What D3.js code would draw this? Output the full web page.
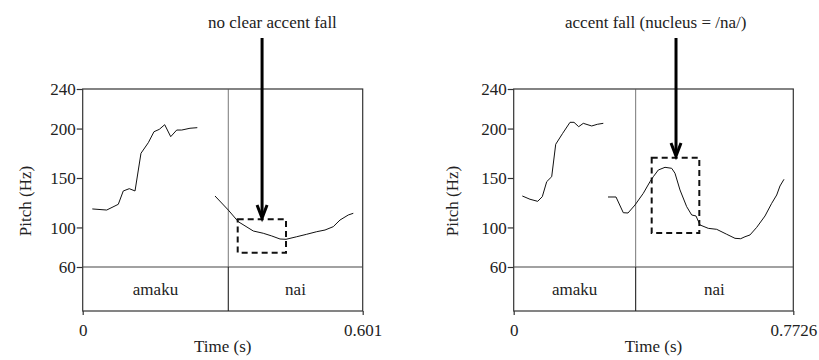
<!DOCTYPE html>
<html><head><meta charset="utf-8">
<script src="https://cdn.jsdelivr.net/npm/d3@7"></script>
<style>
html,body{margin:0;padding:0;background:#fff;}
svg text{font-family:"Liberation Serif","Times New Roman",serif;font-size:17px;fill:#222;}
</style></head>
<body><svg id="c" width="819" height="360"></svg>
<script>
// ---- data ----
const yTicks = [60, 100, 150, 200, 240];
const leftDuration = 0.601, rightDuration = 0.7726;
const leftXTickLabels = ["0", "0.601"];
const rightXTickLabels = ["0", "0.7726"];
const leftBoundary = 0.3125, rightBoundary = 0.337;
const tierLabels = ["amaku", "nai"];
const leftTitle = "no clear accent fall";
const rightTitle = "accent fall (nucleus = /na/)";

const leftPitchA = [[0.0206,118.7],[0.0515,117.6],[0.0764,123.4],[0.0871,136.9],[0.1000,139.2],[0.1123,136.9],[0.1251,175],[0.1408,185.7],[0.1530,196.8],[0.1644,199.2],[0.1760,203.9],[0.1889,191.8],[0.2018,198.5],[0.2125,198.5],[0.2303,200.3],[0.2460,200.9]];
const leftPitchB = [[0.2840,131.8],[0.3125,117.6],[0.3340,105.8],[0.3662,96.4],[0.3876,94.1],[0.4057,91.4],[0.4235,88.3],[0.4364,88.0],[0.4593,90.6],[0.4808,93.1],[0.5023,95.7],[0.5201,97.4],[0.5379,100.8],[0.5523,107.5],[0.5701,112.6],[0.5808,114.3]];
const rightPitchA = [[0.0238,131.8],[0.0450,128.5],[0.0663,126.4],[0.0790,131.1],[0.0912,146.3],[0.1050,151.3],[0.1161,184.1],[0.1354,195.2],[0.1556,206.3],[0.1666,206.3],[0.1796,201.9],[0.1923,205.3],[0.2155,202.6],[0.2310,204.3],[0.2476,205.3]];
const rightPitchB = [[0.2606,130.8],[0.2827,130.8],[0.3028,114.9],[0.3158,114.6],[0.3352,122.7],[0.3581,134.5],[0.3766,146.3],[0.3857,151.3],[0.3996,158.1],[0.4181,160.8],[0.4366,159.8],[0.4457,154.8],[0.4595,137.9],[0.4780,121],[0.4918,112.6],[0.5037,111.6],[0.5148,102.5],[0.5377,99.1],[0.5609,98.1],[0.5886,93.1],[0.6115,89],[0.6272,88.6],[0.6391,90.6],[0.6529,92.4],[0.6715,100.1],[0.6944,111.6],[0.7129,124.4],[0.7267,132.8],[0.7358,141.9],[0.7469,148.7]];
// dashed boxes [t0, t1, hzLow, hzHigh]
const leftBox = [0.3327, 0.4364, 74.5, 108.2];
const rightBox = [0.3813, 0.5129, 94.4, 170.5];
// arrows [t, tipHz]
const leftArrow = [0.385, 109.5];
const rightArrow = [0.4485, 172.2];

// ---- layout ----
const svg = d3.select("#c");
const plotTop = 89, pitchBottom = 267, tierBottom = 311;
const panels = [
  {x0: 82.7, x1: 362.7, dur: leftDuration, labels: leftXTickLabels, boundary: leftBoundary,
   segs: [leftPitchA, leftPitchB], box: leftBox, arrow: leftArrow, title: leftTitle, titleX: 208, yLabelX: 31},
  {x0: 513.7, x1: 793.3, dur: rightDuration, labels: rightXTickLabels, boundary: rightBoundary,
   segs: [rightPitchA, rightPitchB], box: rightBox, arrow: rightArrow, title: rightTitle, titleX: 565, yLabelX: 458}
];

const y = d3.scaleLinear().domain([60, 240]).range([pitchBottom, plotTop]);

panels.forEach(p => {
  const x = d3.scaleLinear().domain([0, p.dur]).range([p.x0, p.x1]);
  const g = svg.append("g");

  // y axis
  const ya = g.append("g").attr("transform", `translate(${p.x0},0)`)
    .call(d3.axisLeft(y).tickValues(yTicks).tickSize(6).tickPadding(1).tickFormat(d3.format("d")));
  ya.select(".domain").remove();
  ya.selectAll("line").attr("stroke", "#333").attr("stroke-width", 1.2);
  ya.selectAll("text").attr("font-family", null).attr("font-size", null).attr("fill", "#222").attr("dy", "0.35em");

  // x axis (bottom of tier)
  const xa = g.append("g").attr("transform", `translate(0,${tierBottom})`)
    .call(d3.axisBottom(x).tickValues([0, p.dur]).tickSize(4).tickPadding(5).tickFormat((d, i) => p.labels[i]));
  xa.select(".domain").remove();
  xa.selectAll("line").attr("stroke", "#333").attr("stroke-width", 1.2);
  xa.selectAll("text").attr("font-family", null).attr("font-size", null).attr("fill", "#222").attr("dy", "0.95em");

  // frame
  g.append("rect").attr("x", p.x0).attr("y", plotTop).attr("width", p.x1 - p.x0).attr("height", tierBottom - plotTop)
    .attr("fill", "none").attr("stroke", "#333").attr("stroke-width", 1.2);
  g.append("line").attr("x1", p.x0).attr("x2", p.x1).attr("y1", y(60)).attr("y2", y(60))
    .attr("stroke", "#444").attr("stroke-width", 1.2);
  // boundary
  g.append("line").attr("x1", x(p.boundary)).attr("x2", x(p.boundary)).attr("y1", plotTop).attr("y2", pitchBottom)
    .attr("stroke", "#555").attr("stroke-width", 0.8);
  g.append("line").attr("x1", x(p.boundary)).attr("x2", x(p.boundary)).attr("y1", pitchBottom).attr("y2", tierBottom)
    .attr("stroke", "#222").attr("stroke-width", 1.1);

  // tier labels
  const mid = (pitchBottom + tierBottom) / 2 + 6;
  g.append("text").attr("x", (x(0) + x(p.boundary)) / 2).attr("y", mid).attr("text-anchor", "middle").text(tierLabels[0]);
  g.append("text").attr("x", (x(p.boundary) + x(p.dur)) / 2).attr("y", mid).attr("text-anchor", "middle").text(tierLabels[1]);

  // axis titles
  g.append("text").attr("x", (p.x0 + p.x1) / 2).attr("y", 352).attr("text-anchor", "middle").text("Time (s)");
  g.append("text").attr("transform", `translate(${p.yLabelX},201) rotate(-90)`).attr("text-anchor", "middle").text("Pitch (Hz)");

  // pitch curves
  const line = d3.line().x(d => x(d[0])).y(d => y(d[1]));
  p.segs.forEach(s => {
    g.append("path").attr("d", line(s)).attr("fill", "none").attr("stroke", "#111").attr("stroke-width", 1)
      .attr("stroke-linejoin", "round");
  });

  // dashed box
  const b = p.box;
  g.append("rect").attr("x", x(b[0])).attr("y", y(b[3])).attr("width", x(b[1]) - x(b[0])).attr("height", y(b[2]) - y(b[3]))
    .attr("fill", "none").attr("stroke", "#111").attr("stroke-width", 2).attr("stroke-dasharray", "6,4");

  // arrow + title
  const ax = x(p.arrow[0]), tipY = y(p.arrow[1]);
  g.append("line").attr("x1", ax).attr("x2", ax).attr("y1", 38).attr("y2", tipY - 1.5)
    .attr("stroke", "#000").attr("stroke-width", 3);
  g.append("path").attr("d", `M${ax - 5},${tipY - 13}L${ax},${tipY}L${ax + 5},${tipY - 13}`)
    .attr("fill", "none").attr("stroke", "#000").attr("stroke-width", 3).attr("stroke-linejoin", "miter");
  g.append("text").attr("x", p.titleX).attr("y", 28).text(p.title);
});
</script></body></html>
